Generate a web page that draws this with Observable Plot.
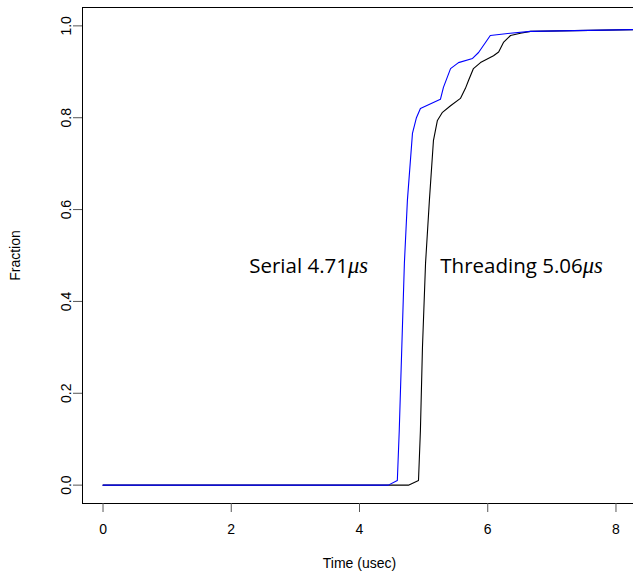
<!DOCTYPE html>
<html><head><meta charset="utf-8">
<script src="https://cdn.jsdelivr.net/npm/d3@7"></script>
<script src="https://cdn.jsdelivr.net/npm/@observablehq/plot@0.6"></script>
<style>
html,body{margin:0;padding:0;background:#fff;overflow:hidden;}
</style>
</head><body><div id="chart"></div>
<script>
// Serial (blue) cumulative distribution
const serialTime     = [0, 4.45, 4.59, 4.62, 4.70, 4.747, 4.826, 4.888, 4.95, 5.262, 5.309, 5.42, 5.544, 5.763, 5.857, 6.04, 6.35, 6.667, 8.32];
const serialFraction = [0, 0,    0.010, 0.119, 0.483, 0.62, 0.766, 0.80, 0.82, 0.84, 0.866, 0.907, 0.92, 0.929, 0.942, 0.979, 0.984, 0.988, 0.992];
// Threading (black) cumulative distribution
const threadingTime     = [0, 4.763, 4.92, 4.95, 4.982, 5.03, 5.09, 5.153, 5.215, 5.289, 5.42, 5.574, 5.652, 5.70, 5.777, 5.887, 6.09, 6.17, 6.245, 6.355, 6.51, 6.667, 8.32];
const threadingFraction = [0, 0,     0.010, 0.119, 0.30, 0.483, 0.62, 0.75, 0.794, 0.811, 0.826, 0.842, 0.864, 0.881, 0.907, 0.92, 0.935, 0.943, 0.964, 0.979, 0.984, 0.988, 0.992];
// Annotations
const labelText = ["Serial 4.71μs", "Threading 5.06μs"];
const labelX = [2.28, 5.26];
const labelY = [0.476, 0.476];
// Ticks
const xTicks = [0, 2, 4, 6, 8];
const yTicks = [0, 0.2, 0.4, 0.6, 0.8, 1.0];

const serial = serialTime.map((t, i) => ({t, f: serialFraction[i]}));
const threading = threadingTime.map((t, i) => ({t, f: threadingFraction[i]}));
const labels = labelText.map((s, i) => ({s, x: labelX[i], y: labelY[i]}));

const chart = Plot.plot({
  width: 636,
  height: 579,
  marginLeft: 82,
  marginRight: 0,
  marginTop: 7,
  marginBottom: 76,
  style: {fontFamily: "'Liberation Sans', Arial, sans-serif", fontSize: "14px", maxWidth: "none", background: "#fff", overflow: "visible"},
  x: {domain: [-0.32, 8.32]},
  y: {domain: [-0.04, 1.04]},
  marks: [
    Plot.frame({stroke: "#000"}),
    Plot.axisX(xTicks, {tickSize: 9, tickPadding: 12, stroke: "#555", fill: "#000", fontSize: 14,
      label: "Time (usec)", labelAnchor: "center", labelOffset: 64, labelArrow: "none"}),
    Plot.axisY(yTicks, {tickSize: 9, tickPadding: 3, tickRotate: -90, stroke: "#555", fill: "#000", fontSize: 14,
      tickFormat: d3.format(".1f"), label: "Fraction", labelAnchor: "center", labelOffset: 72, labelArrow: "none"}),
    Plot.line(threading, {x: "t", y: "f", stroke: "#000", strokeWidth: 1.1, clip: true}),
    Plot.line(serial, {x: "t", y: "f", stroke: "#0000ff", strokeWidth: 1.1, clip: true}),
    Plot.text(labels, {x: "x", y: "y", text: "s", textAnchor: "start", fontSize: 20.5, fill: "#000",
      fontFamily: "'Open Sans', Lato, sans-serif", className: "annot"})
  ]
});
document.getElementById("chart").appendChild(chart);

// Render "μs" in math italic
d3.select(chart).selectAll("text").each(function() {
  const t = this.textContent;
  if (t.endsWith("μs")) {
    const base = t.slice(0, -2);
    const el = d3.select(this);
    el.text(null);
    el.append("tspan").text(base);
    el.append("tspan").attr("font-style", "italic").attr("font-family", "'Liberation Serif', serif").attr("font-size", 22.5).text("μs");
  }
});
</script>
</body></html>
